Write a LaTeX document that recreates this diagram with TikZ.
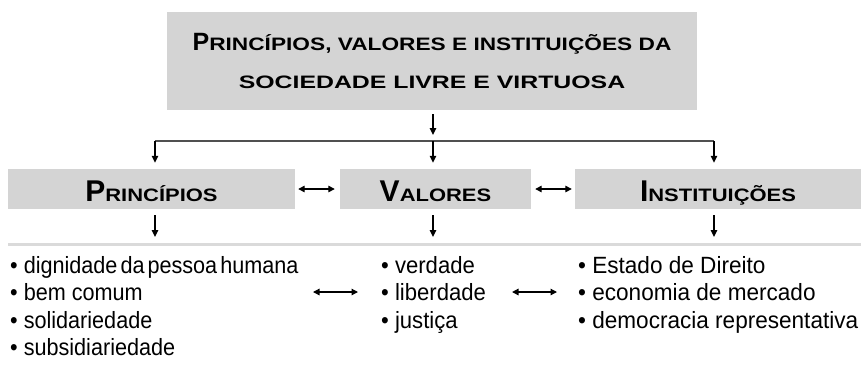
\documentclass[tikz,border=0pt]{standalone}
\usepackage{fontspec}
\setmainfont{Liberation Sans}
\newfontfamily\listfontL[FakeStretch=0.92]{Liberation Sans}
\newfontfamily\listfontM[FakeStretch=0.94]{Liberation Sans}
\newfontfamily\listfontR[FakeStretch=0.96]{Liberation Sans}
\newfontfamily\capfont{Liberation Sans Bold}
\newfontfamily\scfont[FakeStretch=1.22]{Liberation Sans Bold}
\newfontfamily\scfontA[FakeStretch=1.26]{Liberation Sans Bold}
\newfontfamily\scfontB[FakeStretch=1.38]{Liberation Sans Bold}
\usetikzlibrary{arrows.meta}
\definecolor{boxgray}{RGB}{212,212,212}
\definecolor{linegray}{RGB}{80,80,80}
\definecolor{sepgray}{RGB}{218,218,218}
\newcommand\hcap[1]{{\capfont\fontsize{30}{30}\selectfont #1}}
\newcommand\hsc[1]{{\scfont\fontsize{18}{18}\selectfont #1}}
\newcommand\tcap[1]{{\capfont\fontsize{25}{25}\selectfont #1}}
\newcommand\tscA[1]{{\scfontA\fontsize{18}{18}\selectfont #1}}
\newcommand\tscB[1]{{\scfontB\fontsize{18}{18}\selectfont #1}}
\newcommand\tsp{\hspace{3pt}}
\begin{document}
\begin{tikzpicture}[x=1pt,y=-1pt,
  graybox/.style={draw=none,fill=boxgray,inner sep=0pt,text height=24pt,text depth=0pt},
  itemL/.style={anchor=base west,inner sep=0pt,font=\listfontL\fontsize{23.5}{23.5}\selectfont},
  itemM/.style={anchor=base west,inner sep=0pt,font=\listfontM\fontsize{23.5}{23.5}\selectfont},
  itemR/.style={anchor=base west,inner sep=0pt,font=\listfontR\fontsize{23.5}{23.5}\selectfont},
  arr/.style={line width=1.3pt,-{Triangle[length=7pt,width=6.5pt]}},
  dbl/.style={line width=1.3pt,{Triangle[length=6.5pt,width=6.5pt]}-{Triangle[length=6.5pt,width=6.5pt]}},
  hline/.style={line width=2pt,draw=linegray},
  sepline/.style={line width=3pt,draw=sepgray}]
\path[use as bounding box] (0,0) rectangle (861,365);

% title box
\node[draw=none,fill=boxgray,inner sep=0pt,minimum width=530pt,minimum height=98pt,align=center] (top) at (432,61)
  {\tcap{P}\tscA{RINCÍPIOS, VALORES E INSTITUIÇÕES DA}\\[21pt]\tscB{SOCIEDADE LIVRE E VIRTUOSA}};

% heading boxes
\node[graybox,minimum width=287pt,minimum height=40pt] (prin) at (151.5,189) {\hcap{P}\hsc{RINCÍPIOS}};
\node[graybox,minimum width=191pt,minimum height=40pt] (val) at (435.5,189) {\hcap{V}\hsc{ALORES}};
\node[graybox,minimum width=286pt,minimum height=40pt] (inst) at (718,189) {\hcap{I}\hsc{NSTITUIÇÕES}};

% branch
\coordinate (hub) at (433,141);
\coordinate (bl) at (155,141);
\coordinate (br) at (714,141);
\draw[arr,shorten <=4pt,shorten >=6pt] (top.south -| hub) -- (hub);
\draw[hline] (bl) -- (br);
\draw[arr,shorten >=6pt] (bl) -- (bl |- prin.north);
\draw[arr,shorten >=6pt] (hub) -- (hub |- val.north);
\draw[arr,shorten >=6pt] (br) -- (br |- inst.north);

% double arrows between boxes
\draw[dbl,shorten <=3pt,shorten >=5pt] (prin.east) -- (val.west);
\draw[dbl,shorten <=4pt,shorten >=3pt] (val.east) -- (inst.west);

% separator
\coordinate (sl) at (8,244);
\coordinate (sr) at (861,244);
\draw[sepline] (sl) -- (sr);
\draw[arr,shorten <=6pt,shorten >=7pt] (bl |- prin.south) -- (bl |- sl);
\draw[arr,shorten <=6pt,shorten >=7pt] (hub |- val.south) -- (hub |- sl);
\draw[arr,shorten <=6pt,shorten >=7pt] (br |- inst.south) -- (br |- sl);

% lists
\node[itemL] (p1) at (10,273) {• dignidade\tsp da\tsp pessoa\tsp humana};
\node[itemL] (p2) at (10,300.5) {• bem comum};
\node[itemL] (p3) at (10,328) {• solidariedade};
\node[itemL] (p4) at (10,355.5) {• subsidiariedade};
\node[itemM] (v1) at (381,273) {• verdade};
\node[itemM] (v2) at (381,300.5) {• liberdade};
\node[itemM] (v3) at (381,328) {• justiça};
\node[itemR] (i1) at (578,273) {• Estado de Direito};
\node[itemR] (i2) at (578,300.5) {• economia de mercado};
\node[itemR] (i3) at (578,328) {• democracia representativa};

\coordinate (la) at (313,292);
\coordinate (lb) at (358,292);
\coordinate (lc) at (512,292);
\coordinate (ld) at (557,292);
\draw[dbl] (la) -- (lb);
\draw[dbl] (lc) -- (ld);
\end{tikzpicture}
\end{document}
